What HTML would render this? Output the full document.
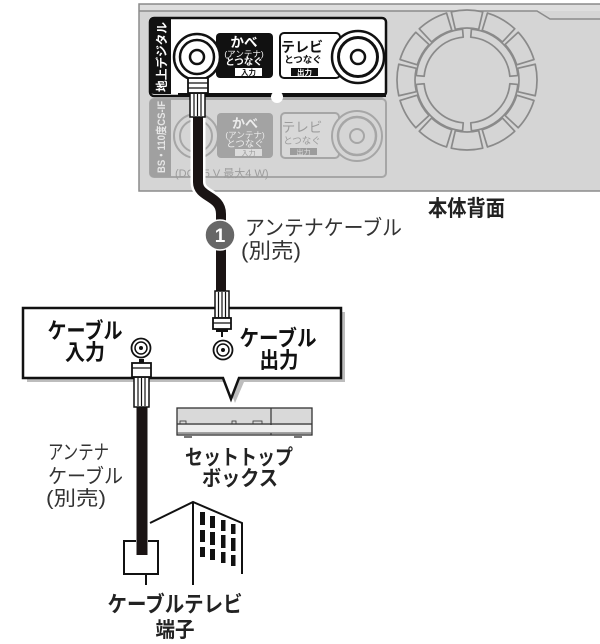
<!DOCTYPE html>
<html><head><meta charset="utf-8"><style>
html,body{margin:0;padding:0;background:#fff;}
svg{display:block;}
text{font-family:"Liberation Sans","Noto Sans CJK JP",sans-serif;}
</style></head><body>
<svg width="600" height="644" viewBox="0 0 600 644" xmlns="http://www.w3.org/2000/svg">
<!-- device back panel -->
<rect x="139" y="4" width="470" height="187" fill="#d5d5d5" stroke="#8c8c8c" stroke-width="1.5"/>
<rect x="140" y="5" width="460" height="6" fill="#dedede"/>
<polyline points="139,11 537,11 550,19 600,19" fill="none" stroke="#8c8c8c" stroke-width="1.5"/>
<!-- fan -->
<g transform="translate(467,80)" fill="#d5d5d5" stroke="#8a8a8a" stroke-width="1.7" stroke-linejoin="round">
<path d="M50.67,-11.70 L68.21,-15.75 A70,70 0 0 1 68.21,15.75 L50.67,11.70 A52,52 0 0 0 50.67,-11.70 Z"/>
<path transform="rotate(30)" d="M50.67,-11.70 L68.21,-15.75 A70,70 0 0 1 68.21,15.75 L50.67,11.70 A52,52 0 0 0 50.67,-11.70 Z"/>
<path transform="rotate(60)" d="M50.67,-11.70 L68.21,-15.75 A70,70 0 0 1 68.21,15.75 L50.67,11.70 A52,52 0 0 0 50.67,-11.70 Z"/>
<path transform="rotate(90)" d="M50.67,-11.70 L68.21,-15.75 A70,70 0 0 1 68.21,15.75 L50.67,11.70 A52,52 0 0 0 50.67,-11.70 Z"/>
<path transform="rotate(120)" d="M50.67,-11.70 L68.21,-15.75 A70,70 0 0 1 68.21,15.75 L50.67,11.70 A52,52 0 0 0 50.67,-11.70 Z"/>
<path transform="rotate(150)" d="M50.67,-11.70 L68.21,-15.75 A70,70 0 0 1 68.21,15.75 L50.67,11.70 A52,52 0 0 0 50.67,-11.70 Z"/>
<path transform="rotate(180)" d="M50.67,-11.70 L68.21,-15.75 A70,70 0 0 1 68.21,15.75 L50.67,11.70 A52,52 0 0 0 50.67,-11.70 Z"/>
<path transform="rotate(210)" d="M50.67,-11.70 L68.21,-15.75 A70,70 0 0 1 68.21,15.75 L50.67,11.70 A52,52 0 0 0 50.67,-11.70 Z"/>
<path transform="rotate(240)" d="M50.67,-11.70 L68.21,-15.75 A70,70 0 0 1 68.21,15.75 L50.67,11.70 A52,52 0 0 0 50.67,-11.70 Z"/>
<path transform="rotate(270)" d="M50.67,-11.70 L68.21,-15.75 A70,70 0 0 1 68.21,15.75 L50.67,11.70 A52,52 0 0 0 50.67,-11.70 Z"/>
<path transform="rotate(300)" d="M50.67,-11.70 L68.21,-15.75 A70,70 0 0 1 68.21,15.75 L50.67,11.70 A52,52 0 0 0 50.67,-11.70 Z"/>
<path transform="rotate(330)" d="M50.67,-11.70 L68.21,-15.75 A70,70 0 0 1 68.21,15.75 L50.67,11.70 A52,52 0 0 0 50.67,-11.70 Z"/>
<path transform="rotate(45)" d="M32.94,-27.64 L39.07,-32.78 A51,51 0 0 1 39.07,32.78 L32.94,27.64 A43,43 0 0 0 32.94,-27.64 Z"/>
<path transform="rotate(135)" d="M32.94,-27.64 L39.07,-32.78 A51,51 0 0 1 39.07,32.78 L32.94,27.64 A43,43 0 0 0 32.94,-27.64 Z"/>
<path transform="rotate(225)" d="M32.94,-27.64 L39.07,-32.78 A51,51 0 0 1 39.07,32.78 L32.94,27.64 A43,43 0 0 0 32.94,-27.64 Z"/>
<path transform="rotate(315)" d="M32.94,-27.64 L39.07,-32.78 A51,51 0 0 1 39.07,32.78 L32.94,27.64 A43,43 0 0 0 32.94,-27.64 Z"/>
</g>

<!-- lower (BS) panel -->
<rect x="150" y="99" width="236" height="78" rx="4" fill="#d5d5d5" stroke="#a6a6a6" stroke-width="2"/>
<path d="M154,99 H171 V177 H154 Q150,177 150,173 V103 Q150,99 154,99 Z" fill="#a0a0a0"/>
<text transform="translate(165,173) rotate(-90)" font-size="11" font-weight="bold" fill="#e6e6e6" textLength="72" lengthAdjust="spacingAndGlyphs">BS・110度CS-IF</text>
<circle cx="196" cy="136" r="22" fill="#d5d5d5" stroke="#a6a6a6" stroke-width="2"/>
<circle cx="196" cy="136" r="16" fill="none" stroke="#a6a6a6" stroke-width="2"/>
<rect x="217" y="113" width="56" height="45" rx="4" fill="#a3a3a3"/>
<text x="245" y="128" font-size="13" font-weight="bold" fill="#ececec" text-anchor="middle">かべ</text>
<text x="245" y="138" font-size="8.5" fill="#ececec" text-anchor="middle">(アンテナ)</text>
<text x="245" y="147" font-size="9.5" fill="#ececec" text-anchor="middle">とつなぐ</text>
<rect x="235" y="149" width="27" height="7" fill="#dcdcdc"/>
<text x="248.5" y="155.5" font-size="7" fill="#999" text-anchor="middle">入力</text>
<rect x="281" y="113" width="58" height="45" rx="4" fill="#d8d8d8" stroke="#a6a6a6" stroke-width="2"/>
<text x="302" y="132" font-size="13.5" fill="#9c9c9c" text-anchor="middle">テレビ</text>
<text x="302" y="144" font-size="9.5" fill="#9c9c9c" text-anchor="middle">とつなぐ</text>
<rect x="290" y="148" width="27" height="7" fill="#9c9c9c"/>
<text x="303.5" y="154.5" font-size="7" fill="#dedede" text-anchor="middle">出力</text>
<circle cx="357" cy="136" r="25" fill="#d5d5d5" stroke="#a6a6a6" stroke-width="2"/>
<circle cx="357" cy="136" r="19" fill="none" stroke="#a6a6a6" stroke-width="2.5"/>
<circle cx="357" cy="136" r="7" fill="none" stroke="#a6a6a6" stroke-width="2"/>
<text x="175" y="177" font-size="11" fill="#9c9c9c">(DC 15 V 最大4 W)</text>

<!-- upper (terrestrial) panel -->
<rect x="150" y="18" width="236" height="78" rx="4" fill="#fff" stroke="#111" stroke-width="2.5"/>
<path d="M154,18 H171 V94 H154 Q150,94 150,90 V22 Q150,18 154,18 Z" fill="#111"/>
<rect x="178" y="93" width="208" height="4" fill="#111"/>
<circle cx="277" cy="97" r="6" fill="#fff"/>
<text transform="translate(166,92) rotate(-90)" font-size="12" font-weight="bold" fill="#fff" textLength="70" lengthAdjust="spacingAndGlyphs">地上デジタル</text>
<rect x="216" y="33" width="57" height="45" rx="4" fill="#111"/>
<text x="244" y="47" font-size="13.5" font-weight="bold" fill="#fff" text-anchor="middle">かべ</text>
<text x="244" y="57" font-size="8.5" fill="#fff" text-anchor="middle">(アンテナ)</text>
<text x="244" y="65" font-size="9.5" font-weight="bold" fill="#fff" text-anchor="middle">とつなぐ</text>
<rect x="235" y="68" width="27" height="8" fill="#fff"/>
<text x="248.5" y="75" font-size="7.5" font-weight="bold" fill="#111" text-anchor="middle">入力</text>
<rect x="280" y="33" width="60" height="45" rx="4" fill="#fff" stroke="#111" stroke-width="2"/>
<text x="302" y="52" font-size="14" font-weight="bold" fill="#111" text-anchor="middle">テレビ</text>
<text x="303" y="63" font-size="9.5" font-weight="bold" fill="#111" text-anchor="middle">とつなぐ</text>
<rect x="291" y="68" width="27" height="8" fill="#111"/>
<text x="304.5" y="75" font-size="7.5" font-weight="bold" fill="#fff" text-anchor="middle">出力</text>
<circle cx="358" cy="57" r="26" fill="#fff" stroke="#111" stroke-width="2.5"/>
<circle cx="358" cy="57" r="19.5" fill="#fff" stroke="#111" stroke-width="3"/>
<circle cx="358" cy="57" r="7" fill="#fff" stroke="#111" stroke-width="2.5"/>
<circle cx="197" cy="57" r="23" fill="#fff" stroke="#111" stroke-width="2.5"/>
<circle cx="197" cy="57" r="17" fill="#fff" stroke="#111" stroke-width="2.5"/>
<circle cx="197" cy="57" r="7" fill="#fff" stroke="#111" stroke-width="2.5"/>

<text x="428" y="216" font-size="22" font-weight="bold" fill="#222" textLength="77" lengthAdjust="spacingAndGlyphs">本体背面</text>

<!-- upper cable -->
<path d="M198,112 V182 C198,198 221,195 221,214 V294" fill="none" stroke="#fff" stroke-width="15"/>
<path d="M198,112 V182 C198,198 221,195 221,214 V294" fill="none" stroke="#1a1414" stroke-width="10"/>
<rect x="190" y="93" width="15" height="24" fill="#fff" stroke="#111" stroke-width="1.5"/>
<line x1="194" y1="94" x2="194" y2="116" stroke="#111" stroke-width="1.2"/>
<line x1="197.5" y1="94" x2="197.5" y2="116" stroke="#111" stroke-width="1.2"/>
<line x1="201" y1="94" x2="201" y2="116" stroke="#111" stroke-width="1.2"/>
<rect x="188" y="78" width="20" height="15" fill="#fff" stroke="#111" stroke-width="1.8"/>
<line x1="188" y1="83" x2="208" y2="83" stroke="#111" stroke-width="1.2"/>
<line x1="188" y1="88" x2="208" y2="88" stroke="#111" stroke-width="1.2"/>
<circle cx="220" cy="235" r="15" fill="#676767" stroke="#fff" stroke-width="1.5"/>
<text x="220" y="242" font-size="19" font-weight="bold" fill="#fff" text-anchor="middle">1</text>
<text x="245" y="235" font-size="21" fill="#333" textLength="157" lengthAdjust="spacingAndGlyphs">アンテナケーブル</text>
<text x="241" y="258" font-size="21" fill="#333" textLength="60" lengthAdjust="spacingAndGlyphs">(別売)</text>

<!-- callout -->
<path d="M27,312 H345 V382 H244 L235,403 L227,382 H27 Z" fill="#bdbdbd"/>
<path d="M23,308 H341 V378 H239 L231,399 L223,378 H23 Z" fill="#fff" stroke="#111" stroke-width="2.5" stroke-linejoin="miter"/>
<text x="85" y="338.5" font-size="22" font-weight="bold" fill="#111" text-anchor="middle" textLength="75" lengthAdjust="spacingAndGlyphs">ケーブル</text>
<text x="85" y="360" font-size="22" font-weight="bold" fill="#111" text-anchor="middle" textLength="40" lengthAdjust="spacingAndGlyphs">入力</text>
<text x="278" y="346" font-size="22" font-weight="bold" fill="#111" text-anchor="middle" textLength="77" lengthAdjust="spacingAndGlyphs">ケーブル</text>
<text x="279" y="368" font-size="22" font-weight="bold" fill="#111" text-anchor="middle" textLength="39" lengthAdjust="spacingAndGlyphs">出力</text>
<circle cx="141" cy="348" r="9.5" fill="#fff" stroke="#111" stroke-width="1.8"/>
<circle cx="141" cy="348" r="6" fill="#fff" stroke="#111" stroke-width="1.5"/>
<circle cx="141" cy="348" r="2" fill="#111"/>
<circle cx="223" cy="350" r="9.5" fill="#fff" stroke="#111" stroke-width="1.8"/>
<circle cx="223" cy="350" r="6" fill="#fff" stroke="#111" stroke-width="1.5"/>
<circle cx="223" cy="350" r="2" fill="#111"/>

<!-- lower connector of upper cable -->
<rect x="215" y="291" width="14" height="27" fill="#fff" stroke="#111" stroke-width="1.5"/>
<line x1="218.5" y1="292" x2="218.5" y2="317" stroke="#111" stroke-width="1.2"/>
<line x1="222" y1="292" x2="222" y2="317" stroke="#111" stroke-width="1.2"/>
<line x1="225.5" y1="292" x2="225.5" y2="317" stroke="#111" stroke-width="1.2"/>
<rect x="213" y="318" width="18" height="11" fill="#fff" stroke="#111" stroke-width="1.8"/>
<line x1="213" y1="323" x2="231" y2="323" stroke="#111" stroke-width="1.2"/>
<rect x="216" y="329" width="12" height="3" fill="#111"/>
<line x1="222" y1="332" x2="222" y2="337" stroke="#111" stroke-width="2"/>

<!-- left cable -->
<rect x="136.5" y="405" width="11" height="150" fill="#1a1414"/>
<rect x="134" y="377" width="15" height="30" fill="#fff" stroke="#111" stroke-width="1.5"/>
<line x1="138" y1="378" x2="138" y2="406" stroke="#111" stroke-width="1.2"/>
<line x1="141.5" y1="378" x2="141.5" y2="406" stroke="#111" stroke-width="1.2"/>
<line x1="145" y1="378" x2="145" y2="406" stroke="#111" stroke-width="1.2"/>
<rect x="132" y="363" width="19" height="14" fill="#fff" stroke="#111" stroke-width="1.8"/>
<line x1="132" y1="368" x2="151" y2="368" stroke="#111" stroke-width="1.2"/>
<rect x="139" y="359" width="5" height="4" fill="#111"/>

<!-- set top box -->
<rect x="177" y="408" width="135" height="27" fill="#d9d9d9" stroke="#333" stroke-width="1.3"/>
<line x1="271" y1="408" x2="271" y2="435" stroke="#333" stroke-width="1.2"/>
<line x1="177" y1="424" x2="312" y2="424" stroke="#333" stroke-width="1.2"/>
<rect x="178" y="425" width="133" height="8" fill="#eee"/>
<line x1="177" y1="433" x2="312" y2="433" stroke="#555" stroke-width="1"/>
<rect x="180" y="421" width="6" height="3" fill="none" stroke="#333" stroke-width="0.8"/>
<rect x="232" y="421" width="4" height="3" fill="none" stroke="#333" stroke-width="0.8"/>
<rect x="253" y="421" width="9" height="3" fill="none" stroke="#333" stroke-width="0.8"/>
<rect x="184" y="435" width="8" height="3" fill="#777"/>
<rect x="294" y="435" width="8" height="3" fill="#777"/>
<text x="239" y="464.5" font-size="21" font-weight="bold" fill="#222" text-anchor="middle" textLength="108" lengthAdjust="spacingAndGlyphs">セットトップ</text>
<text x="240" y="485.5" font-size="21" font-weight="bold" fill="#222" text-anchor="middle" textLength="76" lengthAdjust="spacingAndGlyphs">ボックス</text>

<!-- left labels -->
<text x="48" y="459" font-size="20" fill="#333" textLength="61" lengthAdjust="spacingAndGlyphs">アンテナ</text>
<text x="48" y="483" font-size="20" fill="#333" textLength="75" lengthAdjust="spacingAndGlyphs">ケーブル</text>
<text x="46" y="505" font-size="20" fill="#333" textLength="60" lengthAdjust="spacingAndGlyphs">(別売)</text>

<!-- wall outlet -->
<path d="M136,541 H124 V574 H158 V541 H148" fill="none" stroke="#111" stroke-width="2"/>
<line x1="146" y1="574" x2="146" y2="585" stroke="#111" stroke-width="2"/>

<!-- building -->
<polyline points="150,523 193,502 242,523 242,574" fill="none" stroke="#111" stroke-width="2"/>
<line x1="193" y1="502" x2="193" y2="585" stroke="#111" stroke-width="2"/>
<g fill="#111">
<rect x="200" y="512" width="5" height="13"/><rect x="200" y="530" width="5" height="12"/><rect x="200" y="547" width="5" height="10"/>
<rect x="210" y="516" width="5" height="12"/><rect x="210" y="532" width="5" height="13"/><rect x="210" y="549" width="5" height="11"/>
<rect x="221" y="520" width="4.5" height="11"/><rect x="221" y="535" width="4.5" height="13"/><rect x="221" y="552" width="4.5" height="11"/>
<rect x="231" y="524" width="4.5" height="10"/><rect x="231" y="538" width="4.5" height="13"/><rect x="231" y="555" width="4.5" height="11"/>
</g>
<text x="175" y="612" font-size="22" font-weight="bold" fill="#222" text-anchor="middle" textLength="135" lengthAdjust="spacingAndGlyphs">ケーブルテレビ</text>
<text x="175" y="637" font-size="21" font-weight="bold" fill="#222" text-anchor="middle" textLength="39" lengthAdjust="spacingAndGlyphs">端子</text>
</svg>
</body></html>
